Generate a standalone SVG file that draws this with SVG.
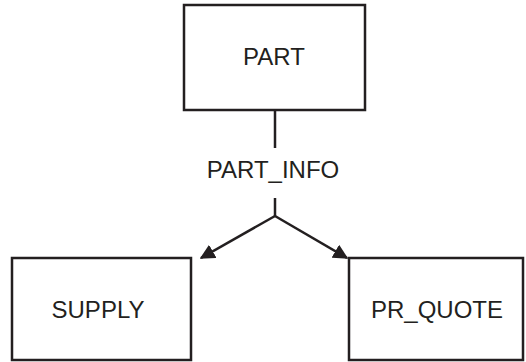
<svg xmlns="http://www.w3.org/2000/svg" width="526" height="362" viewBox="0 0 526 362">
<style>
.box{fill:#fff;stroke:#231f20;stroke-width:2.5}
.lbl{font-family:"Liberation Sans",Arial,sans-serif;font-size:24px;fill:#231f20;text-anchor:middle}
.ln{stroke:#231f20;stroke-width:2.5;fill:none}
</style>
<defs>
<marker id="ah" viewBox="0 0 10 10" refX="9" refY="5" markerWidth="6" markerHeight="6" markerUnits="strokeWidth" orient="auto">
<path d="M0,0 L10,5 L0,10 z" fill="#231f20"/>
</marker>
</defs>
<g id="connectors">
<line class="ln" x1="275" y1="110" x2="275" y2="148"/>
<text class="lbl" x="273" y="178">PART_INFO</text>
<line class="ln" x1="275" y1="198" x2="275" y2="216"/>
<line class="ln" x1="275" y1="216" x2="201" y2="258" marker-end="url(#ah)"/>
<line class="ln" x1="275" y1="216" x2="347" y2="258" marker-end="url(#ah)"/>
</g>
<g id="PART">
<rect class="box" x="184" y="5" width="181" height="105"/>
<text class="lbl" x="274" y="65">PART</text>
</g>
<g id="SUPPLY">
<rect class="box" x="12" y="258" width="179" height="102"/>
<text class="lbl" x="98" y="318">SUPPLY</text>
</g>
<g id="PR_QUOTE">
<rect class="box" x="349" y="258" width="174" height="102"/>
<text class="lbl" x="437" y="318">PR_QUOTE</text>
</g>
</svg>
